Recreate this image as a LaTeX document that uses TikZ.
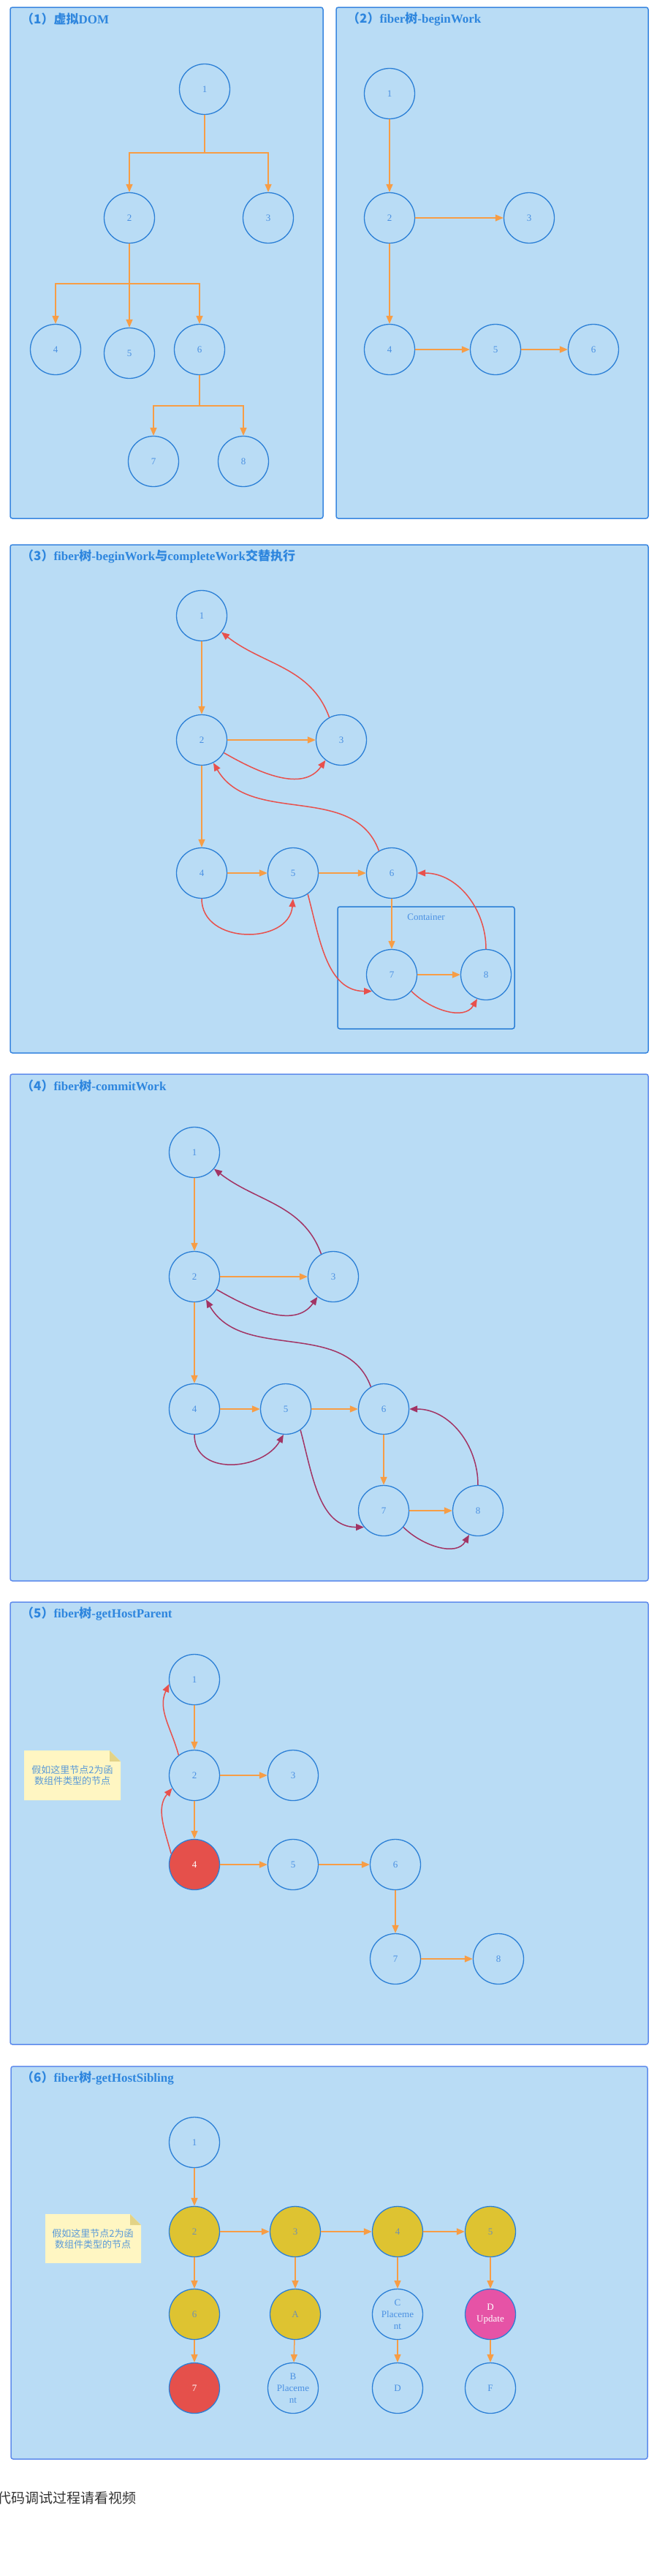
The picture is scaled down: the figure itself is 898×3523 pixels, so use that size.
\documentclass[tikz,border=0pt]{standalone}
\usepackage{fontspec}
\setmainfont{Liberation Serif}
\newfontfamily\cjk{Noto Sans CJK SC}
\newcommand{\zh}[1]{{\cjk #1}}
\usetikzlibrary{arrows.meta}

\definecolor{panelfill}{HTML}{B9DCF5}
\definecolor{panelline}{HTML}{3A87E0}
\definecolor{panellineb}{HTML}{5F8CEC}
\definecolor{nodeline}{HTML}{2B7FD6}
\definecolor{labelblue}{HTML}{4A90E2}
\definecolor{titleblue}{HTML}{2E86DE}
\definecolor{edgeorange}{HTML}{F79D45}
\definecolor{backred}{HTML}{E8504C}
\definecolor{backpurple}{HTML}{A23464}
\definecolor{yellowfill}{HTML}{DEC331}
\definecolor{yellowtext}{HTML}{7090B0}
\definecolor{redfill}{HTML}{E5504B}
\definecolor{pinkfill}{HTML}{E653A6}
\definecolor{notefill}{HTML}{FFF6C2}
\definecolor{notefold}{HTML}{E3D386}
\definecolor{notetext}{HTML}{5A9AD8}
\definecolor{bodygray}{HTML}{333333}

\begin{document}
\begin{tikzpicture}[x=1pt,y=-1pt,
    panel/.style={draw=panelline,line width=1.5pt,fill=panelfill,rounded corners=3pt},
    panelb/.style={panel,draw=panellineb},
    ptitle/.style={anchor=west,inner sep=0pt,text=titleblue,font=\bfseries\fontsize{17}{20}\selectfont},
    fnode/.style={circle,draw=nodeline,line width=1.3pt,minimum size=69pt,inner sep=0pt,
        text=labelblue,align=center,font=\fontsize{13}{16}\selectfont},
    hot/.style={fnode,fill=yellowfill,text=yellowtext},
    cur/.style={fnode,fill=redfill,text=white},
    upd/.style={fnode,fill=pinkfill,text=white},
    fwdline/.style={draw=edgeorange,line width=1.5pt},
    fwd/.style={fwdline,-{Triangle[length=11pt,width=9pt]}},
    retn/.style={draw=backred,line width=1.5pt,-{Triangle[length=11pt,width=9pt]}},
    commit/.style={draw=backpurple,line width=1.5pt,-{Triangle[length=11pt,width=9pt]}},
    notetxt/.style={inner sep=0pt,align=center,text=notetext,font=\cjk\fontsize{13}{15}\selectfont}]

    \fill[white] (0,0) rectangle (898,3523);
    \useasboundingbox (0,0) rectangle (898,3523);

    % (1) virtual dom
    \draw[panel] (14,10) rectangle (442,709);
    \node[ptitle] (t1) at (29,26) {\zh{（1）虚拟}DOM};
    \node[fnode] (a1) at (280,122) {1};
    \node[fnode] (a2) at (177,298) {2};
    \node[fnode] (a3) at (367,298) {3};
    \node[fnode] (a4) at (76,478) {4};
    \node[fnode] (a5) at (177,483) {5};
    \node[fnode] (a6) at (273,478) {6};
    \node[fnode] (a7) at (210,631) {7};
    \node[fnode] (a8) at (333,631) {8};
    \coordinate (a1fork) at (280,209);
    \coordinate (a2fork) at (177,388);
    \coordinate (a6fork) at (273,555);
    \draw[fwdline] (a1) -- (a1fork);
    \draw[fwd] (a1fork) -| (a2);
    \draw[fwd] (a1fork) -| (a3);
    \draw[fwdline] (a2) -- (a2fork);
    \draw[fwd] (a2fork) -| (a4);
    \draw[fwd] (a2fork) -- (a5);
    \draw[fwd] (a2fork) -| (a6);
    \draw[fwdline] (a6) -- (a6fork);
    \draw[fwd] (a6fork) -| (a7);
    \draw[fwd] (a6fork) -| (a8);

    % (2) beginWork
    \draw[panel] (460,10) rectangle (887,709);
    \node[ptitle] (t2) at (475,26) {\zh{（2）}fiber\zh{树}-beginWork};
    \node[fnode] (b1) at (533,128) {1};
    \node[fnode] (b2) at (533,298) {2};
    \node[fnode] (b3) at (724,298) {3};
    \node[fnode] (b4) at (533,478) {4};
    \node[fnode] (b5) at (678,478) {5};
    \node[fnode] (b6) at (812,478) {6};
    \draw[fwd] (b1) -- (b2);
    \draw[fwd] (b2) -- (b3);
    \draw[fwd] (b2) -- (b4);
    \draw[fwd] (b4) -- (b5);
    \draw[fwd] (b5) -- (b6);

    % (3) beginWork / completeWork
    \draw[panel] (14,745) rectangle (887,1440);
    \node[ptitle] (t3) at (29,761) {\zh{（3）}fiber\zh{树}-beginWork\zh{与}completeWork\zh{交替执行}};
    \draw[draw=nodeline,line width=1.5pt,rounded corners=3pt] (462,1240) rectangle (704,1407);
    \node[text=labelblue,font=\fontsize{13}{16}\selectfont] (cbox) at (583,1254) {Container};
    \node[fnode] (c1) at (276,842) {1};
    \node[fnode] (c2) at (276,1012) {2};
    \node[fnode] (c3) at (467,1012) {3};
    \node[fnode] (c4) at (276,1194) {4};
    \node[fnode] (c5) at (401,1194) {5};
    \node[fnode] (c6) at (536,1194) {6};
    \node[fnode] (c7) at (536,1333) {7};
    \node[fnode] (c8) at (665,1333) {8};
    \draw[fwd] (c1) -- (c2);
    \draw[fwd] (c2) -- (c3);
    \draw[fwd] (c2) -- (c4);
    \draw[fwd] (c4) -- (c5);
    \draw[fwd] (c5) -- (c6);
    \draw[fwd] (c6) -- (c7);
    \draw[fwd] (c7) -- (c8);
    \draw[retn] (c3.118) to[out=110,in=-38] (c1.-40);
    \draw[retn] (c2.-30) to[out=-30,in=-125] (c3.-128);
    \draw[retn] (c6.120) to[out=110,in=-60] (c2.-63);
    \draw[retn] (c4.south) to[out=-90,in=-95,looseness=1.3] (c5.south);
    \draw[retn] (c5.-55) to[out=-75,in=180] (c7.-140);
    \draw[retn] (c7.-40) to[out=-45,in=-120] (c8.-110);
    \draw[retn] (c8.north) to[out=90,in=0] (c6.east);

    % (4) commitWork
    \draw[panelb] (14,1469) rectangle (887,2162);
    \node[ptitle] (t4) at (29,1485) {\zh{（4）}fiber\zh{树}-commitWork};
    \node[fnode] (d1) at (266,1576) {1};
    \node[fnode] (d2) at (266,1746) {2};
    \node[fnode] (d3) at (456,1746) {3};
    \node[fnode] (d4) at (266,1927) {4};
    \node[fnode] (d5) at (391,1927) {5};
    \node[fnode] (d6) at (525,1927) {6};
    \node[fnode] (d7) at (525,2066) {7};
    \node[fnode] (d8) at (654,2066) {8};
    \draw[fwd] (d1) -- (d2);
    \draw[fwd] (d2) -- (d3);
    \draw[fwd] (d2) -- (d4);
    \draw[fwd] (d4) -- (d5);
    \draw[fwd] (d5) -- (d6);
    \draw[fwd] (d6) -- (d7);
    \draw[fwd] (d7) -- (d8);
    \draw[commit] (d3.118) to[out=110,in=-38] (d1.-40);
    \draw[commit] (d2.-30) to[out=-30,in=-125] (d3.-128);
    \draw[commit] (d6.120) to[out=110,in=-60] (d2.-63);
    \draw[commit] (d4.south) to[out=-90,in=-120,looseness=1.2] (d5.-95);
    \draw[commit] (d5.-55) to[out=-75,in=180] (d7.-140);
    \draw[commit] (d7.-40) to[out=-45,in=-120] (d8.-110);
    \draw[commit] (d8.north) to[out=90,in=0] (d6.east);

    % (5) getHostParent
    \draw[panelb] (14,2191) rectangle (887,2796);
    \node[ptitle] (t5) at (29,2207) {\zh{（5）}fiber\zh{树}-getHostParent};
    \fill[notefill] (33,2394) -- (150,2394) -- (165,2409) -- (165,2462) -- (33,2462) -- cycle;
    \fill[notefold] (150,2394) -- (165,2409) -- (150,2409) -- cycle;
    \node[notetxt] (enote) at (99,2428) {假如这里节点2为函\\数组件类型的节点};
    \node[fnode] (e1) at (266,2297) {1};
    \node[fnode] (e2) at (266,2428) {2};
    \node[fnode] (e3) at (401,2428) {3};
    \node[cur] (e4) at (266,2550) {4};
    \node[fnode] (e5) at (401,2550) {5};
    \node[fnode] (e6) at (541,2550) {6};
    \node[fnode] (e7) at (541,2679) {7};
    \node[fnode] (e8) at (682,2679) {8};
    \draw[fwd] (e1) -- (e2);
    \draw[fwd] (e2) -- (e3);
    \draw[fwd] (e2) -- (e4);
    \draw[fwd] (e4) -- (e5);
    \draw[fwd] (e5) -- (e6);
    \draw[fwd] (e6) -- (e7);
    \draw[fwd] (e7) -- (e8);
    \draw[retn] (e2.128) to[out=105,in=-115] (e1.190);
    \draw[retn] (e4.155) to[out=105,in=-130] (e2.-150);

    % (6) getHostSibling
    \draw[panelb] (15,2826) rectangle (886,3363);
    \node[ptitle] (t6) at (29,2842) {\zh{（6）}fiber\zh{树}-getHostSibling};
    \fill[notefill] (62,3028) -- (178,3028) -- (193,3043) -- (193,3095) -- (62,3095) -- cycle;
    \fill[notefold] (178,3028) -- (193,3043) -- (178,3043) -- cycle;
    \node[notetxt] (fnote) at (127,3062) {假如这里节点2为函\\数组件类型的节点};
    \node[fnode] (f1) at (266,2930) {1};
    \node[hot] (f2) at (266,3052) {2};
    \node[hot] (f3) at (404,3052) {3};
    \node[hot] (f4) at (544,3052) {4};
    \node[hot] (f5) at (671,3052) {5};
    \node[hot] (f6) at (266,3165) {6};
    \node[hot] (fa) at (404,3165) {A};
    \node[fnode] (fc) at (544,3165) {C\\Placeme\\nt};
    \node[upd] (fdu) at (671,3165) {D\\Update};
    \node[cur] (f7) at (266,3266) {7};
    \node[fnode] (fb) at (401,3266) {B\\Placeme\\nt};
    \node[fnode] (fd) at (544,3266) {D};
    \node[fnode] (ff) at (671,3266) {F};
    \draw[fwd] (f1) -- (f2);
    \draw[fwd] (f2) -- (f3);
    \draw[fwd] (f3) -- (f4);
    \draw[fwd] (f4) -- (f5);
    \draw[fwd] (f2) -- (f6);
    \draw[fwd] (f6) -- (f7);
    \draw[fwd] (f3) -- (fa);
    \draw[fwd] (fa) -- (fb);
    \draw[fwd] (f4) -- (fc);
    \draw[fwd] (fc) -- (fd);
    \draw[fwd] (f5) -- (fdu);
    \draw[fwd] (fdu) -- (ff);

    \node[anchor=west,inner sep=0pt,text=bodygray,font=\cjk\fontsize{19}{22}\selectfont] (tail) at (-4,3416) {代码调试过程请看视频};
\end{tikzpicture}
\end{document}
